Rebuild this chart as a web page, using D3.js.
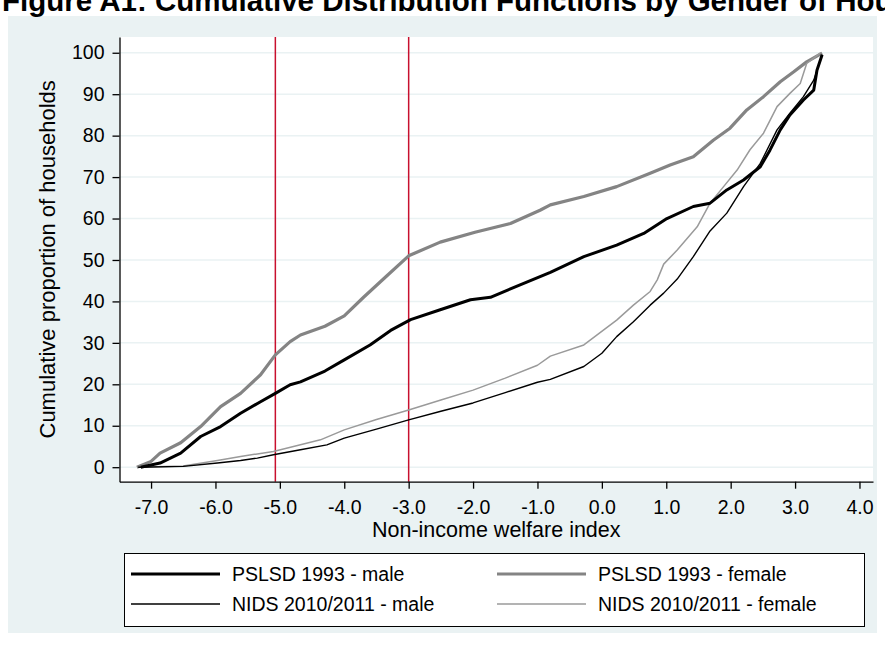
<!DOCTYPE html>
<html><head><meta charset="utf-8">
<script src="https://cdn.jsdelivr.net/npm/d3@7"></script>
<style>
html,body{margin:0;padding:0;background:#fff;}
svg{display:block;font-family:"Liberation Sans",Arial,sans-serif;}
</style></head>
<body>
<svg id="c" width="885" height="646"></svg>
<script>
// ---- data ----
const titleText = "Figure A1: Cumulative Distribution Functions by Gender of Household Head";
const xTicks = [-7, -6, -5, -4, -3, -2, -1, 0, 1, 2, 3, 4];
const yTicks = [0, 10, 20, 30, 40, 50, 60, 70, 80, 90, 100];
const refLines = [-5.07, -3.0];
const seriesNames = ["PSLSD 1993 - male", "PSLSD 1993 - female", "NIDS 2010/2011 - male", "NIDS 2010/2011 - female"];

const pslsdMale = [[-7.16,0],[-6.86,1],[-6.54,3.4],[-6.23,7.4],[-5.92,9.8],[-5.61,13],[-5.30,15.8],[-5.07,17.8],[-4.84,19.9],[-4.68,20.6],[-4.3,23.2],[-4.0,25.9],[-3.6,29.5],[-3.28,33],[-2.97,35.6],[-2.51,38],[-2.04,40.4],[-1.73,41],[-1.27,44],[-0.80,47],[-0.28,50.8],[0.23,53.6],[0.65,56.4],[1.01,60],[1.42,62.9],[1.68,63.7],[1.94,66.9],[2.2,69.3],[2.46,72.5],[2.61,76.5],[2.77,81.4],[2.92,85],[3.13,88.6],[3.29,91],[3.34,95.8],[3.42,99.5]];
const pslsdFemale = [[-7.22,0],[-7.0,1.4],[-6.86,3.4],[-6.54,5.9],[-6.23,9.8],[-5.92,14.6],[-5.61,17.8],[-5.30,22.3],[-5.07,27.1],[-4.84,30.3],[-4.68,31.9],[-4.3,34],[-4.0,36.5],[-3.7,41],[-3.35,46],[-3.0,51],[-2.51,54.3],[-1.97,56.7],[-1.42,58.8],[-0.96,62],[-0.80,63.3],[-0.28,65.3],[0.23,67.7],[0.75,70.9],[1.06,72.9],[1.42,74.9],[1.73,78.9],[1.99,81.8],[2.25,86.2],[2.51,89.4],[2.77,93],[2.98,95.4],[3.18,97.8],[3.42,99.9]];
const nidsMale = [[-7.2,0],[-6.5,0.2],[-5.97,1.0],[-5.61,1.6],[-5.35,2.2],[-5.1,3.0],[-4.68,4.2],[-4.27,5.4],[-4.0,7.0],[-3.5,9.2],[-3.0,11.4],[-2.5,13.5],[-2.0,15.5],[-1.5,18],[-1.0,20.5],[-0.8,21.2],[-0.28,24.3],[0.0,27.5],[0.23,31.5],[0.49,35.1],[0.75,39.1],[0.96,42],[1.17,45.4],[1.42,50.8],[1.68,57],[1.94,61.3],[2.2,67.7],[2.46,73.3],[2.72,81.4],[2.92,85.4],[3.13,89.4],[3.29,93.4],[3.42,99.5]];
const nidsFemale = [[-7.2,0],[-6.5,0.3],[-5.97,1.6],[-5.61,2.6],[-5.1,3.8],[-4.68,5.4],[-4.37,6.6],[-4.0,9],[-3.5,11.5],[-3.0,13.8],[-2.5,16.2],[-2.0,18.6],[-1.5,21.5],[-1.0,24.6],[-0.8,26.8],[-0.28,29.5],[0.23,35.5],[0.49,39.1],[0.75,42.4],[0.86,45.2],[0.96,49],[1.17,52.4],[1.48,58],[1.68,63.7],[1.89,67.7],[2.1,71.7],[2.3,76.6],[2.51,80.6],[2.72,87],[2.92,90.2],[3.08,92.6],[3.18,97.4],[3.39,99.9]];

// ---- layout ----
const plot = {l: 119.5, r: 873, t: 37, b: 481.7};
const svg = d3.select("#c");

svg.append("rect").attr("x", 8).attr("y", 16).attr("width", 869).attr("height", 617).attr("fill", "#eaf2f3");
svg.append("text").attr("x", 2).attr("y", 11).attr("font-size", 29.5).attr("font-weight", "bold").attr("fill", "#000").text(titleText);

const x = d3.scaleLinear().domain([-7.49, 4.21]).range([plot.l, plot.r]);
const y = d3.scaleLinear().domain([-3.5, 103.8]).range([plot.b, plot.t]);

svg.append("rect").attr("x", plot.l).attr("y", plot.t).attr("width", plot.r - plot.l).attr("height", plot.b - plot.t).attr("fill", "#fff");

// grid
svg.append("g").selectAll("line").data(yTicks).join("line")
  .attr("x1", plot.l).attr("x2", plot.r).attr("y1", d => y(d)).attr("y2", d => y(d))
  .attr("stroke", "#eaf2f3").attr("stroke-width", 1.5);

// reference lines
svg.append("g").selectAll("line").data(refLines).join("line")
  .attr("x1", d => x(d)).attr("x2", d => x(d)).attr("y1", plot.t).attr("y2", plot.b)
  .attr("stroke", "#c8102e").attr("stroke-width", 1.5);

// series
const styles = [
  {data: pslsdFemale, color: "#848484", w: 3.2},
  {data: nidsFemale, color: "#9a9a9a", w: 1.5},
  {data: nidsMale, color: "#000", w: 1.4},
  {data: pslsdMale, color: "#000", w: 3}
];
const line = d3.line().x(d => x(d[0])).y(d => y(d[1]));
svg.append("g").selectAll("path").data(styles).join("path")
  .attr("d", d => line(d.data)).attr("fill", "none")
  .attr("stroke", d => d.color).attr("stroke-width", d => d.w).attr("stroke-linejoin", "round");

// axes
const yAxis = svg.append("g").attr("transform", `translate(${plot.l},0)`)
  .call(d3.axisLeft(y).tickValues(yTicks).tickSize(7).tickSizeOuter(0).tickPadding(8));
const xAxis = svg.append("g").attr("transform", `translate(0,${plot.b})`)
  .call(d3.axisBottom(x).tickValues(xTicks).tickFormat(d3.format(".1f")).tickSize(7).tickSizeOuter(0).tickPadding(11));
[yAxis, xAxis].forEach(g => {
  g.select(".domain").attr("stroke", "#000").attr("stroke-width", 1.3);
  g.selectAll(".tick line").attr("stroke", "#000").attr("stroke-width", 1.3);
  g.selectAll(".tick text").attr("font-size", 19.5).attr("fill", "#000").attr("font-family", "Liberation Sans, Arial, sans-serif");
});
xAxis.selectAll(".tick text").text(d => d3.format(".1f")(d).replace("−", "-"));

// axis titles
svg.append("text").attr("transform", `translate(55,${(plot.t + plot.b) / 2}) rotate(-90)`)
  .attr("text-anchor", "middle").attr("font-size", 22).attr("fill", "#000").text("Cumulative proportion of households");
svg.append("text").attr("x", (plot.l + plot.r) / 2).attr("y", 537)
  .attr("text-anchor", "middle").attr("font-size", 21.5).attr("fill", "#000").text("Non-income welfare index");

// legend
svg.append("rect").attr("x", 124.5).attr("y", 553.5).attr("width", 740).attr("height", 73)
  .attr("fill", "#fff").attr("stroke", "#000").attr("stroke-width", 1);
const legItems = [
  {name: seriesNames[0], color: "#000", w: 3, cx: 131, cy: 574},
  {name: seriesNames[1], color: "#848484", w: 3.2, cx: 497, cy: 574},
  {name: seriesNames[2], color: "#000", w: 1.4, cx: 131, cy: 604},
  {name: seriesNames[3], color: "#9a9a9a", w: 1.5, cx: 497, cy: 604}
];
const lg = svg.append("g").selectAll("g").data(legItems).join("g");
lg.append("line").attr("x1", d => d.cx).attr("x2", d => d.cx + 89).attr("y1", d => d.cy).attr("y2", d => d.cy)
  .attr("stroke", d => d.color).attr("stroke-width", d => d.w);
lg.append("text").attr("x", d => d.cx + 101).attr("y", d => d.cy + 7).attr("font-size", 19.5).attr("fill", "#000").text(d => d.name);
</script>
</body></html>
